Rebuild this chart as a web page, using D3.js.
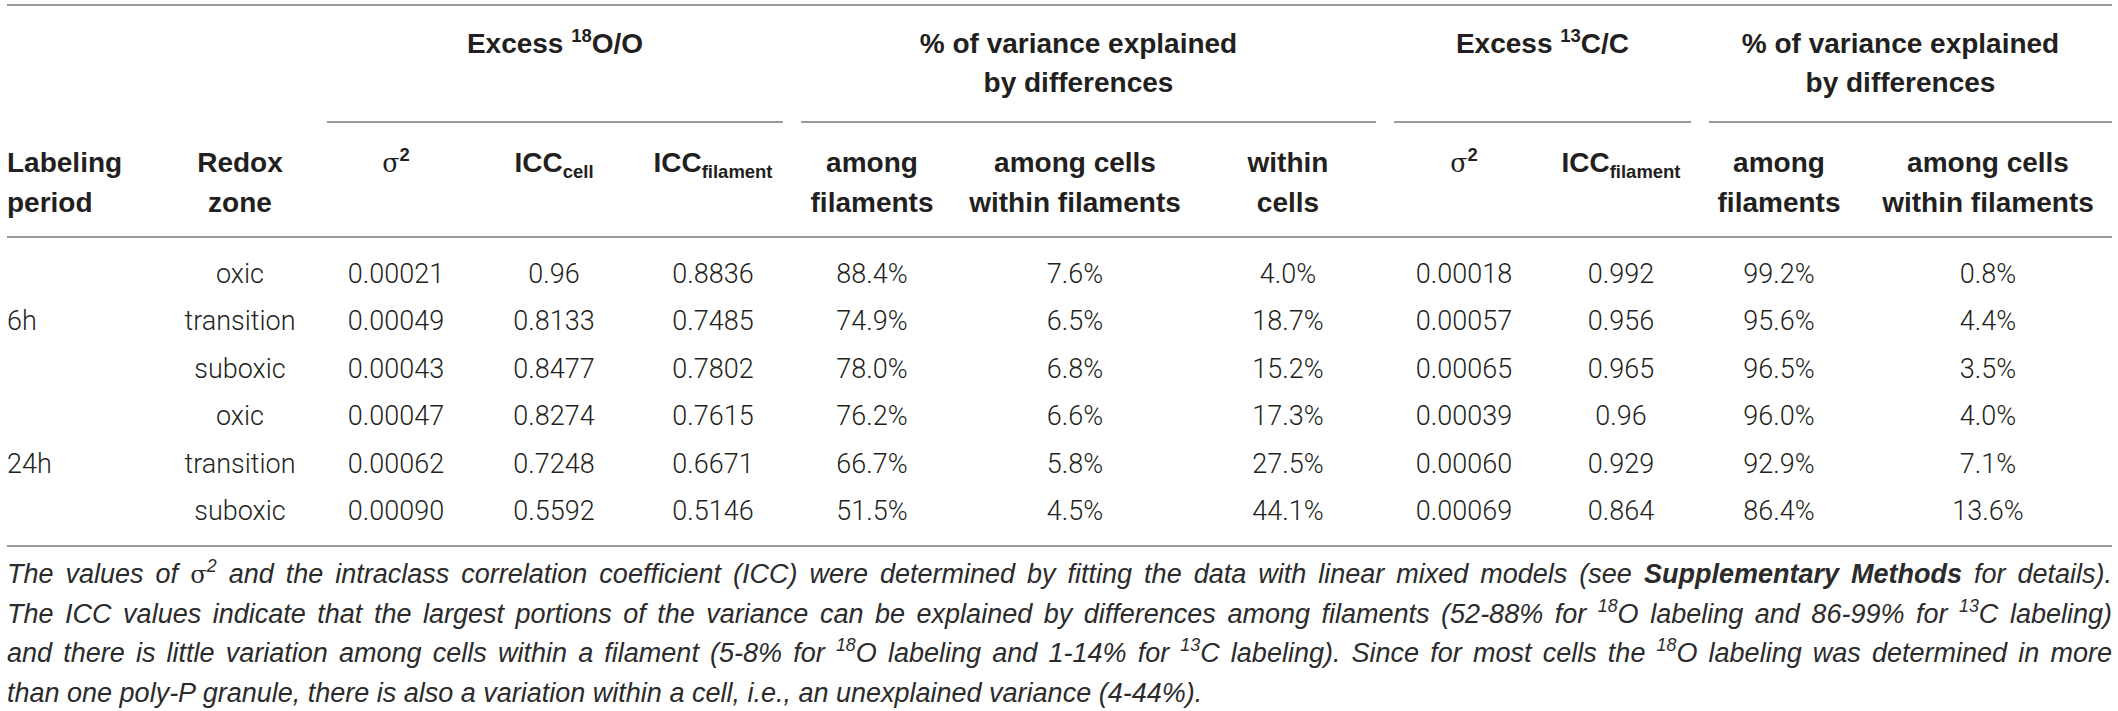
<!DOCTYPE html>
<html>
<head>
<meta charset="utf-8">
<script src="https://cdn.jsdelivr.net/npm/d3@7"></script>
<style>
body { margin: 0; background: #fff; }
svg text { fill: #231f20; }
.hd { font-family: "Liberation Sans", Arial, sans-serif; font-weight: bold; font-size: 28px; }
.cell { font-family: Roboto, "Liberation Sans", sans-serif; font-weight: 300; font-size: 27px; }
.cap { font-family: "Liberation Sans", Arial, sans-serif; font-style: italic; font-size: 27px; }
svg text.cap { fill: #2b2b2b; }
</style>
</head>
<body>
<svg id="tbl" width="2118" height="711"></svg>
<script>
// table values
const periods = ['6h', '24h'];
const zones = ['oxic', 'transition', 'suboxic'];
const sigma18 = [0.00021, 0.00049, 0.00043, 0.00047, 0.00062, 0.00090];
const iccCell18 = [0.96, 0.8133, 0.8477, 0.8274, 0.7248, 0.5592];
const iccFil18 = [0.8836, 0.7485, 0.7802, 0.7615, 0.6671, 0.5146];
const amongFil18 = [88.4, 74.9, 78.0, 76.2, 66.7, 51.5];
const amongCells18 = [7.6, 6.5, 6.8, 6.6, 5.8, 4.5];
const withinCells18 = [4.0, 18.7, 15.2, 17.3, 27.5, 44.1];
const sigma13 = [0.00018, 0.00057, 0.00065, 0.00039, 0.00060, 0.00069];
const iccFil13 = [0.992, 0.956, 0.965, 0.96, 0.929, 0.864];
const amongFil13 = [99.2, 95.6, 96.5, 96.0, 92.9, 86.4];
const amongCells13 = [0.8, 4.4, 3.5, 4.0, 7.1, 13.6];

// header labels
const colKeys = ['period', 'zone', 's18', 'iccc18', 'iccf18', 'af18', 'ac18', 'wc18', 's13', 'iccf13', 'af13', 'ac13'];
const colHeads = [
    ['Labeling', 'period'], ['Redox', 'zone'], ['σ^{2}'], ['ICC_{cell}'], ['ICC_{filament}'],
    ['among', 'filaments'], ['among cells', 'within filaments'], ['within', 'cells'],
    ['σ^{2}'], ['ICC_{filament}'], ['among', 'filaments'], ['among cells', 'within filaments']
];
const groupHeads = [
    ['Excess ^{18}O/O'], ['% of variance explained', 'by differences'],
    ['Excess ^{13}C/C'], ['% of variance explained', 'by differences']
];
const caption = [
    'The values of σ^{2} and the intraclass correlation coefficient (ICC) were determined by fitting the data with linear mixed models (see **Supplementary Methods** for details).',
    'The ICC values indicate that the largest portions of the variance can be explained by differences among filaments (52-88% for ^{18}O labeling and 86-99% for ^{13}C labeling)',
    'and there is little variation among cells within a filament (5-8% for ^{18}O labeling and 1-14% for ^{13}C labeling). Since for most cells the ^{18}O labeling was determined in more',
    'than one poly-P granule, there is also a variation within a cell, i.e., an unexplained variance (4-44%).'
];

const svg = d3.select('#tbl');
const left = 7, right = 2112;
const ruleColor = '#9a9a9a';

const fmtSig = d3.format('.5f');
const fmtPct = d => d3.format('.1f')(d) + '%';
const fmtRaw = d => String(d);

const columns = [
    {key: 's18', values: sigma18, fmt: fmtSig},
    {key: 'iccc18', values: iccCell18, fmt: fmtRaw},
    {key: 'iccf18', values: iccFil18, fmt: fmtRaw},
    {key: 'af18', values: amongFil18, fmt: fmtPct},
    {key: 'ac18', values: amongCells18, fmt: fmtPct},
    {key: 'wc18', values: withinCells18, fmt: fmtPct},
    {key: 's13', values: sigma13, fmt: fmtSig},
    {key: 'iccf13', values: iccFil13, fmt: fmtRaw},
    {key: 'af13', values: amongFil13, fmt: fmtPct},
    {key: 'ac13', values: amongCells13, fmt: fmtPct}
];

// column centres
const x = d3.scaleOrdinal()
    .domain(colKeys)
    .range([left, 240, 396, 554, 713, 872, 1075, 1288, 1464, 1621, 1779, 1988]);

const rowIds = d3.range(periods.length * zones.length);
const y = d3.scalePoint()
    .domain(rowIds)
    .range([283, 520]);

// split points between header groups
const splits = [318, 792, 1385, 1700, right + 9];

// markup: ^{sup} _{sub} **bold** σ
const rich = function(txt, str, size){
    const parts = str.split(/(\^\{[^}]*\}|_\{[^}]*\}|\*\*[^*]*\*\*|σ)/).filter(s => s.length);
    let shift = 0;
    parts.forEach(p => {
        let t, target = 0;
        if (p.startsWith('^{')) {
            t = txt.append('tspan').text(p.slice(2, -1)).style('font-size', (size * 0.66) + 'px');
            target = -size * 0.4;
        } else if (p.startsWith('_{')) {
            t = txt.append('tspan').text(p.slice(2, -1)).style('font-size', (size * 0.66) + 'px');
            target = size * 0.22;
        } else if (p.startsWith('**')) {
            t = txt.append('tspan').text(p.slice(2, -2)).style('font-weight', 'bold');
        } else if (p === 'σ') {
            t = txt.append('tspan').text(p)
                .style('font-family', '"DejaVu Serif", "Liberation Serif", serif')
                .style('font-weight', 'normal').style('font-style', 'normal')
                .style('font-size', (size * 0.9) + 'px');
        } else {
            t = txt.append('tspan').text(p);
        }
        if (target - shift !== 0) t.attr('dy', target - shift);
        shift = target;
    });
};

// horizontal rules
const rule = (x1, x2, yy) => svg.append('line')
    .attr('x1', x1).attr('x2', x2).attr('y1', yy).attr('y2', yy)
    .attr('stroke', ruleColor).attr('stroke-width', 2);
rule(left, right, 5);
rule(left, right, 237);
rule(left, right, 546);

// group headers + underlines
groupHeads.forEach((lines, i) => {
    const x1 = splits[i] + 9, x2 = splits[i + 1] - 9;
    rule(x1, x2, 122);
    lines.forEach((ln, j) => {
        const t = svg.append('text').attr('class', 'hd')
            .attr('x', (x1 + x2) / 2 - (lines.length > 1 ? 10 : 0))
            .attr('y', 53 + j * 39)
            .attr('text-anchor', 'middle');
        rich(t, ln, 28);
    });
});

// column headers
colKeys.forEach((k, i) => {
    colHeads[i].forEach((ln, j) => {
        const t = svg.append('text').attr('class', 'hd')
            .attr('x', x(k))
            .attr('y', 172 + j * 40)
            .attr('text-anchor', k === 'period' ? 'start' : 'middle');
        rich(t, ln, 28);
    });
});

// row labels
svg.selectAll('text.period')
    .data(periods)
    .enter()
  .append('text')
    .attr('class', 'cell period')
    .attr('x', x('period'))
    .attr('y', (d, i) => y(i * zones.length + 1))
    .text(d => d);

svg.selectAll('text.zone')
    .data(rowIds)
    .enter()
  .append('text')
    .attr('class', 'cell zone')
    .attr('x', x('zone'))
    .attr('y', d => y(d))
    .attr('text-anchor', 'middle')
    .text(d => zones[d % zones.length]);

// value cells
columns.forEach(col => {
    svg.selectAll('text.c-' + col.key)
        .data(col.values)
        .enter()
      .append('text')
        .attr('class', 'cell c-' + col.key)
        .attr('x', x(col.key))
        .attr('y', (d, i) => y(i))
        .attr('text-anchor', 'middle')
        .text(d => col.fmt(d));
});

// caption, justified except last line
caption.forEach((ln, i) => {
    const t = svg.append('text').attr('class', 'cap')
        .attr('x', left)
        .attr('y', 583 + i * 39.5)
        .attr('xml:space', 'preserve');
    rich(t, ln, 27);
    if (i < caption.length - 1) {
        const len = t.node().getComputedTextLength();
        const spaces = (ln.match(/ /g) || []).length;
        t.style('word-spacing', ((right - left - len) / spaces) + 'px');
    }
});
</script>
</body>
</html>
